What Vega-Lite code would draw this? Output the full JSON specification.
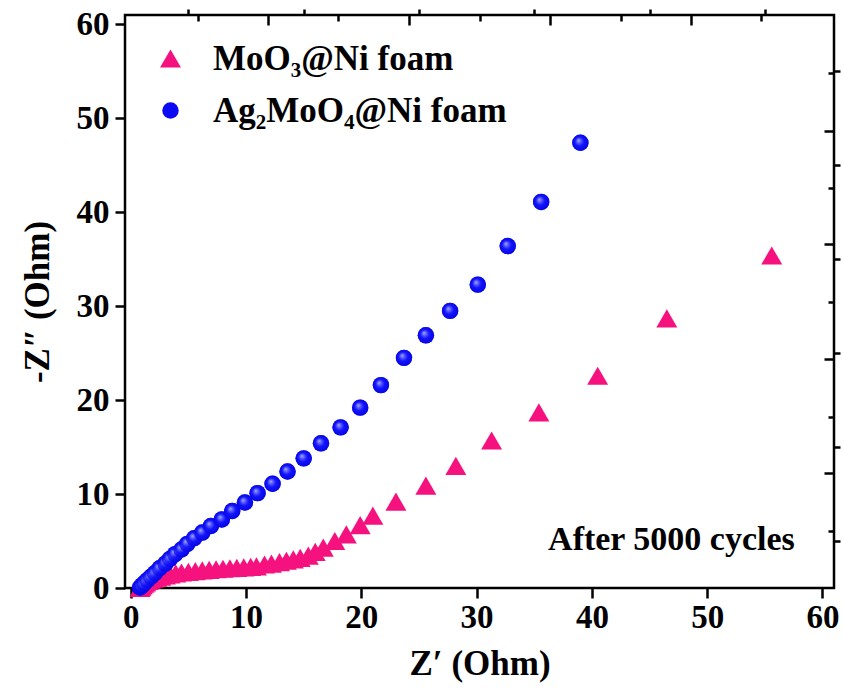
{
  "$schema": "https://vega.github.io/schema/vega-lite/v6.json",
  "width": 709,
  "height": 573,
  "autosize": "none",
  "padding": {"left": 125, "top": 15, "right": 10, "bottom": 102},
  "background": "white",
  "config": {
    "view": {"stroke": "black", "strokeWidth": 2.5},
    "axis": {
      "domain": false,
      "grid": false,
      "tickColor": "black",
      "tickWidth": 2.5,
      "labelFont": "Liberation Serif, Times New Roman, serif",
      "labelFontWeight": "bold",
      "labelFontSize": 33,
      "labelColor": "black",
      "titleFont": "Liberation Serif, Times New Roman, serif",
      "titleFontWeight": "bold",
      "titleFontSize": 35,
      "titleColor": "black"
    },
    "legend": {
      "labelFont": "Liberation Serif, Times New Roman, serif",
      "labelFontWeight": "bold",
      "labelFontSize": 35,
      "labelColor": "black",
      "labelLimit": 0
    }
  },
  "datasets": {
    "eis": [
      {"series": "MoO₃@Ni foam", "zre": 0.8, "zim": 0.0},
      {"series": "MoO₃@Ni foam", "zre": 0.9, "zim": 0.15},
      {"series": "MoO₃@Ni foam", "zre": 1.0, "zim": 0.3},
      {"series": "MoO₃@Ni foam", "zre": 1.15, "zim": 0.45},
      {"series": "MoO₃@Ni foam", "zre": 1.3, "zim": 0.6},
      {"series": "MoO₃@Ni foam", "zre": 1.5, "zim": 0.75},
      {"series": "MoO₃@Ni foam", "zre": 1.7, "zim": 0.9},
      {"series": "MoO₃@Ni foam", "zre": 1.95, "zim": 1.0},
      {"series": "MoO₃@Ni foam", "zre": 2.25, "zim": 1.1},
      {"series": "MoO₃@Ni foam", "zre": 2.6, "zim": 1.2},
      {"series": "MoO₃@Ni foam", "zre": 3.0, "zim": 1.35},
      {"series": "MoO₃@Ni foam", "zre": 3.4, "zim": 1.45},
      {"series": "MoO₃@Ni foam", "zre": 3.9, "zim": 1.55},
      {"series": "MoO₃@Ni foam", "zre": 4.4, "zim": 1.65},
      {"series": "MoO₃@Ni foam", "zre": 5.0, "zim": 1.72},
      {"series": "MoO₃@Ni foam", "zre": 5.6, "zim": 1.8},
      {"series": "MoO₃@Ni foam", "zre": 6.2, "zim": 1.87},
      {"series": "MoO₃@Ni foam", "zre": 6.8, "zim": 1.93},
      {"series": "MoO₃@Ni foam", "zre": 7.4, "zim": 2.0},
      {"series": "MoO₃@Ni foam", "zre": 8.0, "zim": 2.05},
      {"series": "MoO₃@Ni foam", "zre": 8.6, "zim": 2.1},
      {"series": "MoO₃@Ni foam", "zre": 9.2, "zim": 2.15},
      {"series": "MoO₃@Ni foam", "zre": 9.8, "zim": 2.2},
      {"series": "MoO₃@Ni foam", "zre": 10.4, "zim": 2.25},
      {"series": "MoO₃@Ni foam", "zre": 10.9, "zim": 2.3},
      {"series": "MoO₃@Ni foam", "zre": 11.6, "zim": 2.5},
      {"series": "MoO₃@Ni foam", "zre": 12.2, "zim": 2.6},
      {"series": "MoO₃@Ni foam", "zre": 12.9, "zim": 2.75},
      {"series": "MoO₃@Ni foam", "zre": 13.5, "zim": 2.9},
      {"series": "MoO₃@Ni foam", "zre": 14.1, "zim": 3.05},
      {"series": "MoO₃@Ni foam", "zre": 14.7, "zim": 3.2},
      {"series": "MoO₃@Ni foam", "zre": 15.4, "zim": 3.45},
      {"series": "MoO₃@Ni foam", "zre": 16.0, "zim": 3.85},
      {"series": "MoO₃@Ni foam", "zre": 16.7, "zim": 4.3},
      {"series": "MoO₃@Ni foam", "zre": 17.7, "zim": 5.0},
      {"series": "MoO₃@Ni foam", "zre": 18.7, "zim": 5.7},
      {"series": "MoO₃@Ni foam", "zre": 19.9, "zim": 6.7},
      {"series": "MoO₃@Ni foam", "zre": 21.0, "zim": 7.7},
      {"series": "MoO₃@Ni foam", "zre": 23.0, "zim": 9.2},
      {"series": "MoO₃@Ni foam", "zre": 25.6, "zim": 10.9},
      {"series": "MoO₃@Ni foam", "zre": 28.2, "zim": 13.0},
      {"series": "MoO₃@Ni foam", "zre": 31.3, "zim": 15.7},
      {"series": "MoO₃@Ni foam", "zre": 35.4, "zim": 18.7},
      {"series": "MoO₃@Ni foam", "zre": 40.5, "zim": 22.6},
      {"series": "MoO₃@Ni foam", "zre": 46.5, "zim": 28.7},
      {"series": "MoO₃@Ni foam", "zre": 55.6, "zim": 35.4},
      {"series": "Ag₂MoO₄@Ni foam", "zre": 0.8, "zim": 0.05},
      {"series": "Ag₂MoO₄@Ni foam", "zre": 1.0, "zim": 0.3},
      {"series": "Ag₂MoO₄@Ni foam", "zre": 1.2, "zim": 0.55},
      {"series": "Ag₂MoO₄@Ni foam", "zre": 1.45, "zim": 0.85},
      {"series": "Ag₂MoO₄@Ni foam", "zre": 1.75, "zim": 1.2},
      {"series": "Ag₂MoO₄@Ni foam", "zre": 2.1, "zim": 1.6},
      {"series": "Ag₂MoO₄@Ni foam", "zre": 2.5, "zim": 2.1},
      {"series": "Ag₂MoO₄@Ni foam", "zre": 3.0, "zim": 2.6},
      {"series": "Ag₂MoO₄@Ni foam", "zre": 3.4, "zim": 3.1},
      {"series": "Ag₂MoO₄@Ni foam", "zre": 3.85, "zim": 3.6},
      {"series": "Ag₂MoO₄@Ni foam", "zre": 4.4, "zim": 4.1},
      {"series": "Ag₂MoO₄@Ni foam", "zre": 4.9, "zim": 4.7},
      {"series": "Ag₂MoO₄@Ni foam", "zre": 5.5, "zim": 5.3},
      {"series": "Ag₂MoO₄@Ni foam", "zre": 6.2, "zim": 5.9},
      {"series": "Ag₂MoO₄@Ni foam", "zre": 6.95, "zim": 6.6},
      {"series": "Ag₂MoO₄@Ni foam", "zre": 7.9, "zim": 7.3},
      {"series": "Ag₂MoO₄@Ni foam", "zre": 8.8, "zim": 8.2},
      {"series": "Ag₂MoO₄@Ni foam", "zre": 9.9, "zim": 9.1},
      {"series": "Ag₂MoO₄@Ni foam", "zre": 11.0, "zim": 10.1},
      {"series": "Ag₂MoO₄@Ni foam", "zre": 12.3, "zim": 11.1},
      {"series": "Ag₂MoO₄@Ni foam", "zre": 13.6, "zim": 12.4},
      {"series": "Ag₂MoO₄@Ni foam", "zre": 15.0, "zim": 13.8},
      {"series": "Ag₂MoO₄@Ni foam", "zre": 16.5, "zim": 15.4},
      {"series": "Ag₂MoO₄@Ni foam", "zre": 18.2, "zim": 17.1},
      {"series": "Ag₂MoO₄@Ni foam", "zre": 19.9, "zim": 19.2},
      {"series": "Ag₂MoO₄@Ni foam", "zre": 21.7, "zim": 21.6},
      {"series": "Ag₂MoO₄@Ni foam", "zre": 23.7, "zim": 24.5},
      {"series": "Ag₂MoO₄@Ni foam", "zre": 25.6, "zim": 26.9},
      {"series": "Ag₂MoO₄@Ni foam", "zre": 27.7, "zim": 29.5},
      {"series": "Ag₂MoO₄@Ni foam", "zre": 30.1, "zim": 32.3},
      {"series": "Ag₂MoO₄@Ni foam", "zre": 32.7, "zim": 36.4},
      {"series": "Ag₂MoO₄@Ni foam", "zre": 35.6, "zim": 41.1},
      {"series": "Ag₂MoO₄@Ni foam", "zre": 39.0, "zim": 47.4}
    ]
  },
  "layer": [
    {
      "data": {"name": "eis"},
      "mark": {"type": "point", "filled": true, "opacity": 1, "strokeWidth": 0},
      "encoding": {
        "x": {
          "field": "zre", "type": "quantitative",
          "scale": {"domain": [-0.5, 61], "nice": false, "zero": false},
          "axis": {"values": [0, 10, 20, 30, 40, 50, 60], "tickSize": 10, "labelPadding": 3, "title": "Z′ (Ohm)", "titlePadding": 12, "labelFlush": false}
        },
        "y": {
          "field": "zim", "type": "quantitative",
          "scale": {"domain": [0, 61], "nice": false, "zero": false},
          "axis": {"values": [0, 10, 20, 30, 40, 50, 60], "tickSize": 10, "labelPadding": 6, "title": "-Z″ (Ohm)", "titlePadding": 21, "labelFlush": false}
        },
        "color": {
          "field": "series", "type": "nominal",
          "scale": {"domain": ["MoO₃@Ni foam", "Ag₂MoO₄@Ni foam"], "range": ["#f5127f", "#0a0af5"]},
          "legend": {"title": null, "orient": "none", "legendX": 28, "legendY": 26, "padding": 0, "rowPadding": 16, "labelOffset": 25, "symbolStrokeWidth": 0}
        },
        "shape": {
          "field": "series", "type": "nominal",
          "scale": {"domain": ["MoO₃@Ni foam", "Ag₂MoO₄@Ni foam"], "range": ["triangle-up", "circle"]}
        },
        "size": {
          "field": "series", "type": "nominal",
          "scale": {"domain": ["MoO₃@Ni foam", "Ag₂MoO₄@Ni foam"], "range": [440, 270]}
        }
      }
    },
    {
      "data": {"name": "eis"},
      "transform": [{"filter": "datum.series === 'Ag₂MoO₄@Ni foam'"}],
      "mark": {
        "type": "point", "filled": true, "shape": "circle", "size": 270, "strokeWidth": 0,
        "fill": {
          "gradient": "radial",
          "x1": 0.38, "y1": 0.35, "r1": 0,
          "x2": 0.5, "y2": 0.5, "r2": 0.55,
          "stops": [
            {"offset": 0, "color": "#f4f5ff"},
            {"offset": 0.22, "color": "#8088ff"},
            {"offset": 0.5, "color": "#1818ff"},
            {"offset": 1, "color": "#0000d8"}
          ]
        }
      },
      "encoding": {
        "x": {"field": "zre", "type": "quantitative", "axis": null},
        "y": {"field": "zim", "type": "quantitative", "axis": null}
      }
    },
    {
      "data": {"name": "eis"},
      "mark": {"type": "point", "opacity": 0},
      "encoding": {
        "x": {"field": "zre", "type": "quantitative", "axis": {"values": [5, 15, 25, 35, 45, 55], "tickSize": 6, "labels": false, "title": null}},
        "y": {"field": "zim", "type": "quantitative", "axis": {"values": [5, 15, 25, 35, 45, 55], "tickSize": 6, "labels": false, "title": null}}
      }
    },
    {
      "data": {"name": "eis"},
      "mark": {"type": "point", "opacity": 0},
      "encoding": {
        "x": {"field": "zre", "type": "quantitative", "axis": {"orient": "top", "values": [11.9, 24.1, 36.4, 48.6], "tickSize": -10, "labels": false, "title": null}},
        "y": {"field": "zim", "type": "quantitative", "axis": {"orient": "right", "values": [12.2, 24.4, 36.6, 48.7], "tickSize": -10, "labels": false, "title": null}}
      }
    },
    {
      "data": {"name": "eis"},
      "mark": {"type": "point", "opacity": 0},
      "encoding": {
        "x": {"field": "zre", "type": "quantitative", "axis": {"orient": "top", "values": [5.8, 18.0, 30.3, 42.5, 54.7], "tickSize": -6, "labels": false, "title": null}},
        "y": {"field": "zim", "type": "quantitative", "axis": {"orient": "right", "values": [6.1, 18.2, 30.4, 42.6, 54.8], "tickSize": -6, "labels": false, "title": null}}
      }
    },
    {
      "data": {"values": [{"label": "After 5000 cycles"}]},
      "mark": {"type": "text", "align": "right", "baseline": "middle", "font": "Liberation Serif, Times New Roman, serif", "fontWeight": "bold", "fontSize": 34, "color": "black"},
      "encoding": {
        "x": {"datum": 57.6, "type": "quantitative", "axis": null},
        "y": {"datum": 5.1, "type": "quantitative", "axis": null},
        "text": {"field": "label"}
      }
    }
  ],
  "resolve": {"axis": {"x": "independent", "y": "independent"}}
}
